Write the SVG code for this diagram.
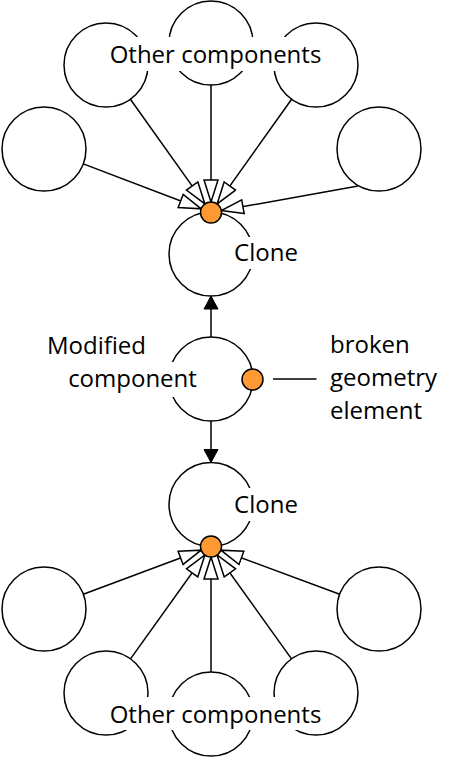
<svg xmlns="http://www.w3.org/2000/svg" width="453" height="758" viewBox="0 0 453 758">
<style>
.c{fill:#fff;stroke:#000;stroke-width:1.5}
.e{fill:none;stroke:#000;stroke-width:1.5}
.o{marker-end:url(#open)}
.b{marker-end:url(#block)}
.dot{fill:#FF9933;stroke:#000;stroke-width:1.5}
.bg{fill:#fff;stroke:none}
text{font-family:"Open Sans","Noto Sans",sans-serif;font-size:24px;fill:#000}
.m{text-anchor:middle}
</style>
<defs>
<marker id="open" markerUnits="userSpaceOnUse" markerWidth="26" markerHeight="18" refX="23" refY="8" orient="auto">
<path d="M1,1 L23,8 L1,15 Z" fill="#fff" stroke="#000" stroke-width="1.5"/>
</marker>
<marker id="block" markerUnits="userSpaceOnUse" markerWidth="18" markerHeight="18" refX="14" refY="8" orient="auto">
<path d="M1,1 L14,8 L1,15 Z" fill="#000" stroke="#000" stroke-width="1"/>
</marker>
</defs>
<g id="other-top">
<circle class="c" cx="106" cy="65" r="42"/>
<circle class="c" cx="211" cy="43" r="42"/>
<circle class="c" cx="316" cy="65" r="42"/>
<circle class="c" cx="44" cy="149" r="42"/>
<circle class="c" cx="379" cy="149" r="42"/>
</g>
<g id="clone-top"><circle class="c" cx="211" cy="254" r="42"/></g>
<g id="modified"><circle class="c" cx="211" cy="379" r="42"/></g>
<g id="clone-bottom"><circle class="c" cx="211" cy="504.5" r="42"/></g>
<g id="other-bottom">
<circle class="c" cx="44" cy="609" r="42"/>
<circle class="c" cx="379" cy="609" r="42"/>
<circle class="c" cx="106" cy="693" r="42"/>
<circle class="c" cx="316" cy="693" r="42"/>
<circle class="c" cx="211" cy="714" r="42"/>
</g>
<g id="connectors">
<path class="e o" d="M83.3,163.9 L201.2,208.8"/>
<path class="e o" d="M130.4,99.2 L204.9,203.9"/>
<path class="e o" d="M211,85 L211,202"/>
<path class="e o" d="M291.6,99.2 L217.1,203.9"/>
<path class="e o" d="M358,186 L221.3,210.6"/>
<path class="e o" d="M83.3,594.3 L201.2,550.2"/>
<path class="e o" d="M130.5,658.9 L204.9,555"/>
<path class="e o" d="M211,672 L211,557"/>
<path class="e o" d="M291.5,658.9 L217.1,555"/>
<path class="e o" d="M339.7,594.3 L220.8,550.2"/>
<path class="e b" d="M211,337 L211,296"/>
<path class="e b" d="M211,421 L211,462.5"/>
<path class="e" d="M273,379 L316.5,379"/>
</g>
<g id="labels">
<rect class="bg" x="107" y="37" width="217" height="34"/>
<text class="m" x="215.5" y="62.7">Other components</text>
<rect class="bg" x="233" y="237" width="66" height="32"/>
<text class="m" x="266" y="260.7">Clone</text>
<text class="m" x="96.5" y="354">Modified</text>
<rect class="bg" x="66" y="362" width="133" height="35"/>
<text class="m" x="132.5" y="386.7">component</text>
<text x="330" y="353.3">broken</text>
<text x="330" y="386">geometry</text>
<text x="330" y="419.3">element</text>
<rect class="bg" x="233" y="488" width="66" height="33"/>
<text class="m" x="266" y="512.7">Clone</text>
<rect class="bg" x="107" y="697" width="217" height="33"/>
<text class="m" x="215.5" y="722.5">Other components</text>
</g>
<g id="dots">
<circle class="dot" cx="211" cy="212.5" r="10.5"/>
<circle class="dot" cx="252.5" cy="379.5" r="10.5"/>
<circle class="dot" cx="211" cy="546.5" r="10.5"/>
</g>
</svg>
